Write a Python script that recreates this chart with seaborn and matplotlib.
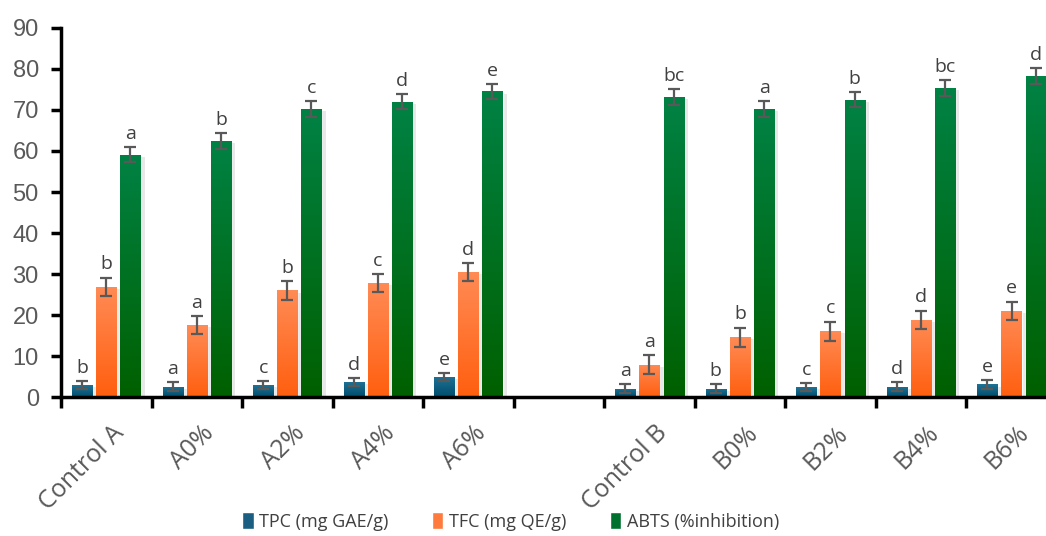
import numpy as np
import pandas as pd
import seaborn as sns
import matplotlib.pyplot as plt
import matplotlib.patheffects as pe
import matplotlib.transforms as mtransforms
from matplotlib.colors import LinearSegmentedColormap
from matplotlib.patches import Patch

# data
groups = ["Control A", "A0%", "A2%", "A4%", "A6%", "Control B", "B0%", "B2%", "B4%", "B6%"]
measures = ["TPC (mg GAE/g)", "TFC (mg QE/g)", "ABTS (%inhibition)"]

tpc = [2.9, 2.6, 2.9, 3.7, 4.9, 2.1, 2.1, 2.4, 2.6, 3.1]
tpc_sd = [1.0, 1.0, 1.0, 1.0, 1.0, 1.0, 1.0, 1.0, 1.0, 1.0]
tpc_let = ["b", "a", "c", "d", "e", "a", "b", "c", "d", "e"]

tfc = [26.9, 17.5, 26.0, 27.8, 30.5, 7.9, 14.6, 16.1, 18.8, 21.0]
tfc_sd = [2.2, 2.2, 2.2, 2.2, 2.2, 2.3, 2.3, 2.3, 2.3, 2.3]
tfc_let = ["b", "a", "b", "c", "d", "a", "b", "c", "d", "e"]

abts = [59.1, 62.4, 70.3, 72.0, 74.5, 73.1, 70.2, 72.5, 75.3, 78.2]
abts_sd = [1.9, 1.9, 1.9, 1.8, 1.8, 1.9, 1.9, 1.9, 1.9, 1.9]
abts_let = ["a", "b", "c", "d", "e", "bc", "a", "b", "bc", "d"]

legend_cols = ["#1a5f82", "#ff7a3d", "#00702e"]
grad_cols = [("#004c6c", "#1f7396"), ("#ff5f0f", "#ff8b55"), ("#006000", "#008244")]

df = pd.DataFrame({
    "group": groups * 3,
    "measure": [measures[0]] * 10 + [measures[1]] * 10 + [measures[2]] * 10,
    "value": tpc + tfc + abts,
})
sds = [tpc_sd, tfc_sd, abts_sd]
lets = [tpc_let, tfc_let, abts_let]

order = groups[:5] + [" "] + groups[5:]

sns.set_style("white")
plt.rcParams['font.family'] = ['Liberation Sans', 'DejaVu Sans']

fig = plt.figure(figsize=(10.46, 5.36), dpi=100)
ax = fig.add_axes([0.0583, 0.259, 0.952, 0.689])

sns.barplot(data=df, x="group", y="value", hue="measure", order=order,
            hue_order=measures, palette=legend_cols, width=0.8, gap=0.17,
            errorbar=None, legend=False, ax=ax)

# gradient fill, shadow, error bars and letters per bar
cmaps = [LinearSegmentedColormap.from_list("g%d" % k, c) for k, c in enumerate(grad_cols)]
for patch in list(ax.patches):
    h = patch.get_height()
    if np.isnan(h) or h == 0:
        continue
    x0, w = patch.get_x(), patch.get_width()
    cx = x0 + w / 2
    pos = int(round(cx))
    k = int(round((cx - pos) / (0.8 / 3))) + 1
    gi = groups.index(order[pos])
    patch.set_path_effects([pe.SimplePatchShadow(offset=(3, -1.5), shadow_rgbFace="#909090", alpha=0.2),
                            pe.Normal()])
    im = ax.imshow(np.linspace(1, 0, 100).reshape(-1, 1), extent=[x0, x0 + w, 0, h],
                   aspect="auto", cmap=cmaps[k], zorder=patch.get_zorder() + 0.1)
    im.set_clip_path(patch)
    sd = sds[k][gi]
    ax.errorbar(cx, h, yerr=sd, fmt="none", ecolor="#595959", elinewidth=1.6,
                capsize=4.5, capthick=1.6, zorder=5)
    ax.annotate(lets[k][gi], (cx, h + sd), xytext=(0, 6), textcoords="offset points",
                ha="center", va="baseline", fontsize=14, color="#404040",
                family=["Open Sans", "DejaVu Sans"])

ax.set_xlim(-0.5, 10.5)
ax.set_ylim(0, 90)
ax.set_yticks(range(0, 100, 10))
ax.set_xlabel("")
ax.set_ylabel("")

for s in ["top", "right"]:
    ax.spines[s].set_visible(False)
for s in ["left", "bottom"]:
    ax.spines[s].set_color("black")
    ax.spines[s].set_linewidth(2.5)

ax.tick_params(axis="y", direction="out", length=7, width=2.5, color="black",
               labelcolor="#595959", labelsize=17, pad=9, left=True)
ax.set_xticks(range(len(order)))
ax.set_xticklabels(order, rotation=45, ha="right", rotation_mode="anchor",
                   family=["Open Sans", "DejaVu Sans"])
ax.tick_params(axis="x", which="major", length=0, labelcolor="#595959", labelsize=18, pad=17)
shift = mtransforms.ScaledTranslation(5 / 100, 0, fig.dpi_scale_trans)
for lab in ax.get_xticklabels():
    lab.set_transform(lab.get_transform() + shift)
ax.set_xticks(np.arange(-0.5, 11, 1), minor=True)
ax.tick_params(axis="x", which="minor", direction="out", length=8, width=2.5, color="black", bottom=True)

handles = [Patch(facecolor=c) for c in legend_cols]
fig.legend(handles, measures, loc="center", bbox_to_anchor=(0.488, 0.027), ncol=3,
           frameon=False, handlelength=0.65, handleheight=1.0,
           handletextpad=0.3, columnspacing=2.4, labelcolor="#404040",
           prop={"family": ["Open Sans", "DejaVu Sans"], "size": 13})

plt.savefig("out.png", dpi=100)
